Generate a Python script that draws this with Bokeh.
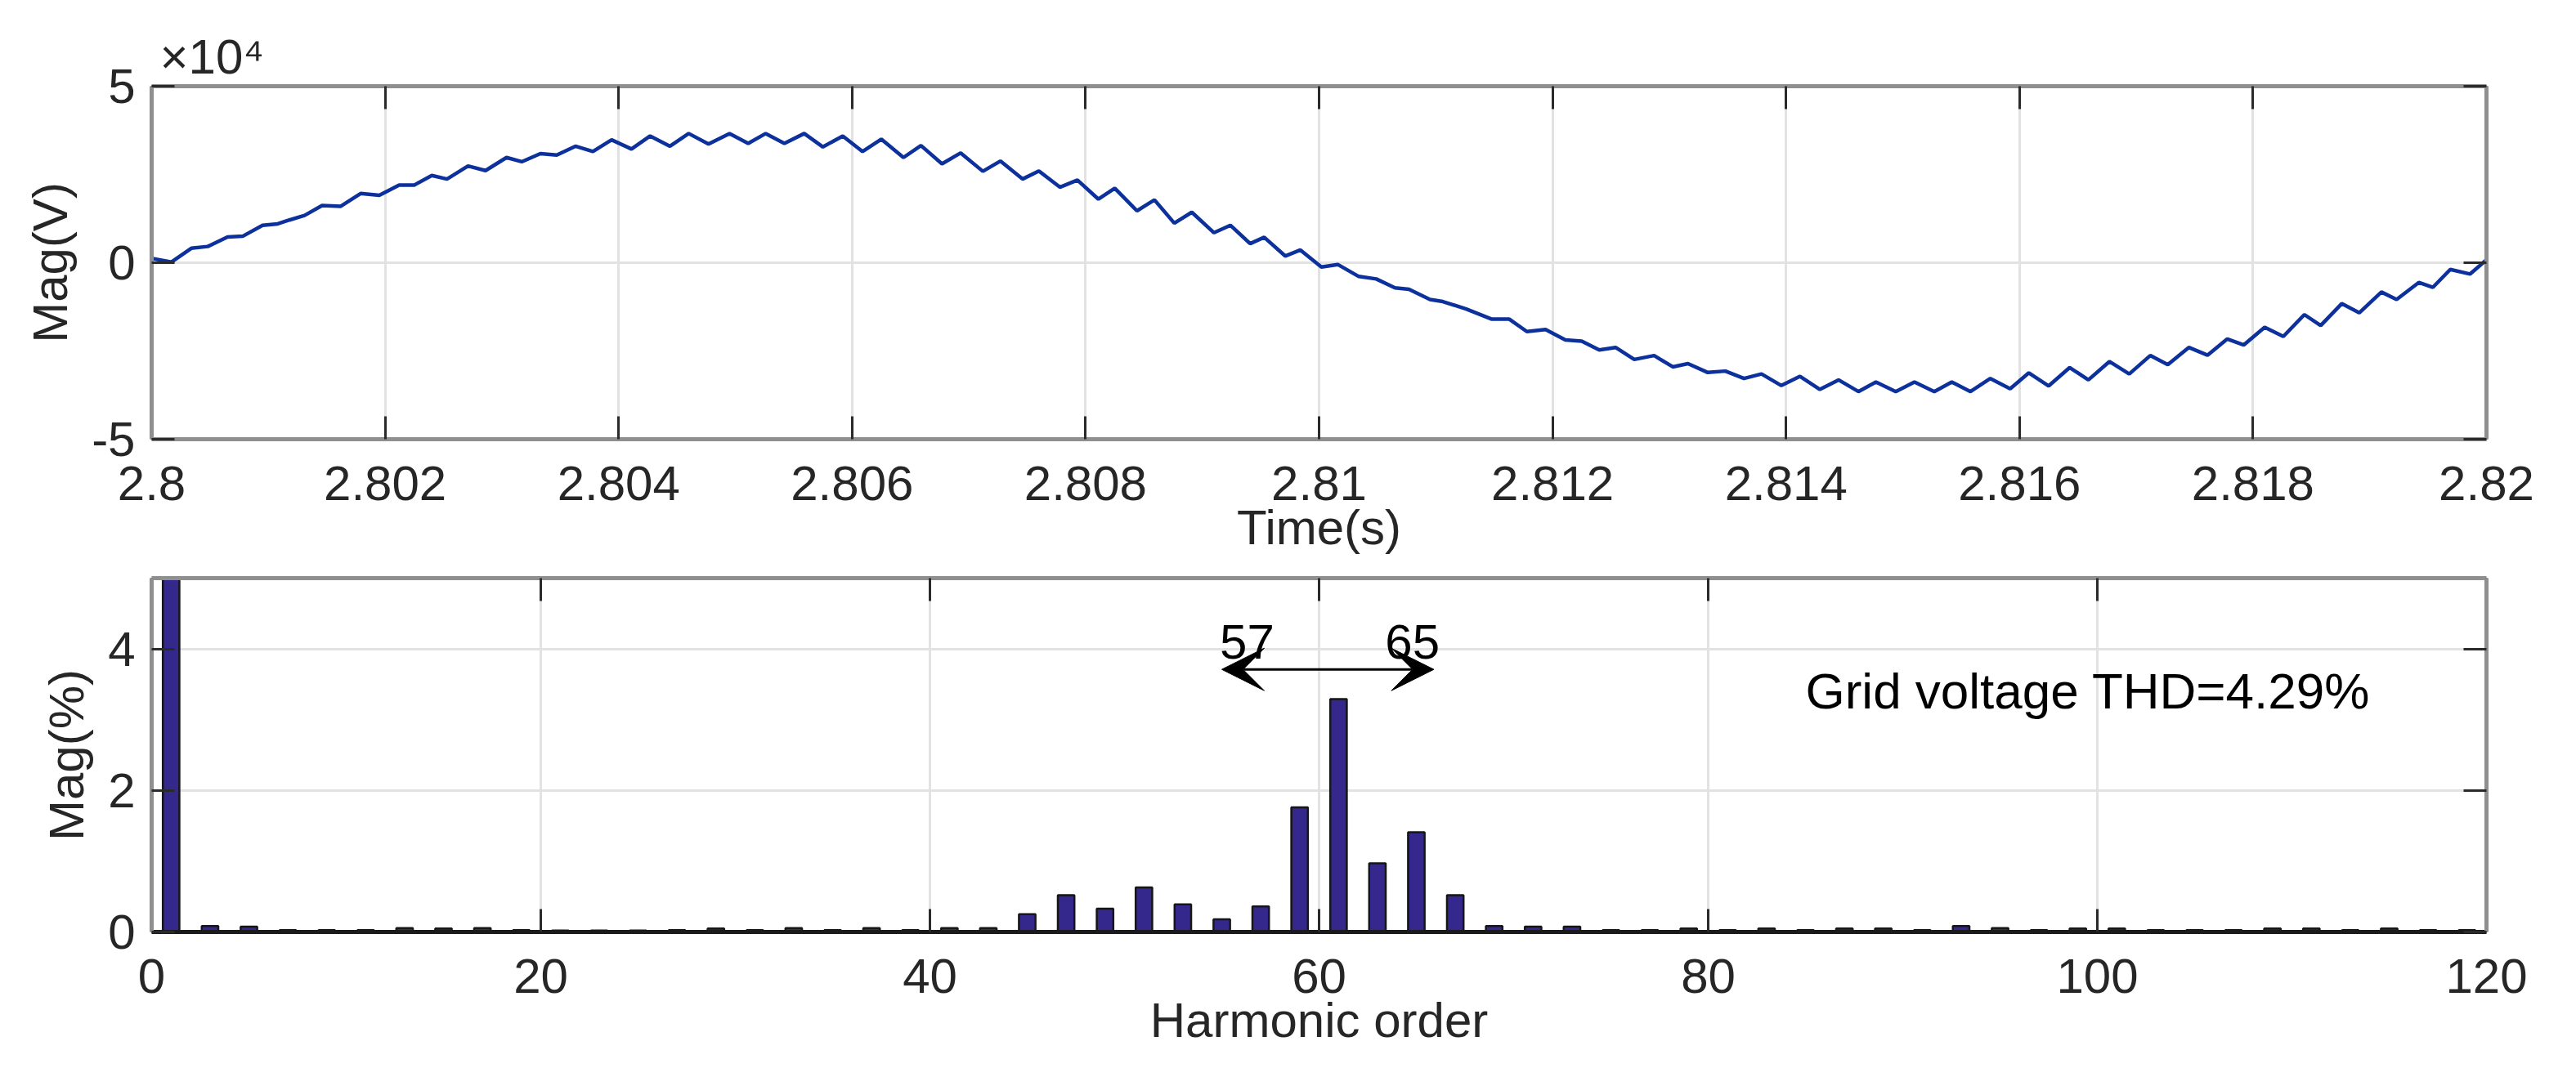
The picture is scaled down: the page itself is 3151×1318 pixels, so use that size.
from bokeh.plotting import figure
from bokeh.models import Range1d, FixedTicker, LinearAxis, Label, Arrow, VeeHead
from bokeh.layouts import column
from bokeh.embed import file_html
from bokeh.resources import INLINE

# ---------------- data ----------------
# Upper panel: grid voltage waveform, time in s, voltage in units of 1e4 V
time_s = [
    2.80000, 2.80017, 2.80034, 2.80048, 2.80065, 2.80078, 2.80095, 2.80108, 2.80118, 2.80131,
    2.80146, 2.80162, 2.80179, 2.80195, 2.80212, 2.80225, 2.80240, 2.80253, 2.80271, 2.80286,
    2.80304, 2.80317, 2.80333, 2.80347, 2.80363, 2.80378, 2.80394, 2.80411, 2.80427, 2.80444,
    2.80460, 2.80477, 2.80495, 2.80511, 2.80526, 2.80542, 2.80559, 2.80575, 2.80592, 2.80609,
    2.80625, 2.80644, 2.80659, 2.80677, 2.80693, 2.80712, 2.80727, 2.80746, 2.80760, 2.80778,
    2.80793, 2.80811, 2.80825, 2.80844, 2.80859, 2.80876, 2.80891, 2.80910, 2.80924, 2.80941,
    2.80953, 2.80971, 2.80984, 2.81002, 2.81016, 2.81034, 2.81049, 2.81065, 2.81077, 2.81095,
    2.81106, 2.81126, 2.81148, 2.81163, 2.81178, 2.81194, 2.81211, 2.81225, 2.81240, 2.81254,
    2.81270, 2.81287, 2.81303, 2.81316, 2.81333, 2.81348, 2.81364, 2.81379, 2.81396, 2.81412,
    2.81429, 2.81445, 2.81462, 2.81477, 2.81494, 2.81510, 2.81527, 2.81542, 2.81558, 2.81575,
    2.81592, 2.81608, 2.81625, 2.81643, 2.81659, 2.81677, 2.81694, 2.81712, 2.81727, 2.81745,
    2.81761, 2.81778, 2.81792, 2.81810, 2.81826, 2.81844, 2.81858, 2.81876, 2.81891, 2.81910,
    2.81923, 2.81942, 2.81954, 2.81969, 2.81986, 2.82000,
]
voltage_e4 = [
    0.12, 0.02, 0.41, 0.46, 0.73, 0.75, 1.06, 1.10, 1.21, 1.34,
    1.62, 1.60, 1.96, 1.91, 2.20, 2.20, 2.47, 2.37, 2.74, 2.61,
    2.98, 2.86, 3.09, 3.05, 3.30, 3.15, 3.48, 3.22, 3.59, 3.30,
    3.66, 3.36, 3.66, 3.38, 3.66, 3.38, 3.66, 3.28, 3.59, 3.15,
    3.50, 2.98, 3.32, 2.80, 3.11, 2.59, 2.88, 2.37, 2.60, 2.14,
    2.34, 1.80, 2.11, 1.47, 1.78, 1.12, 1.43, 0.85, 1.06, 0.54,
    0.72, 0.19, 0.36, -0.12, -0.05, -0.39, -0.46, -0.71, -0.75, -1.04,
    -1.10, -1.31, -1.60, -1.60, -1.95, -1.89, -2.19, -2.22, -2.47, -2.40,
    -2.74, -2.63, -2.95, -2.86, -3.11, -3.07, -3.28, -3.15, -3.48, -3.22,
    -3.59, -3.32, -3.65, -3.38, -3.65, -3.38, -3.65, -3.38, -3.65, -3.28,
    -3.57, -3.12, -3.49, -2.97, -3.32, -2.80, -3.15, -2.63, -2.89, -2.40,
    -2.62, -2.16, -2.33, -1.83, -2.09, -1.47, -1.78, -1.16, -1.42, -0.83,
    -1.04, -0.56, -0.70, -0.19, -0.32, 0.08,
]
voltage_v = [v * 1e4 for v in voltage_e4]

time_ticks = [2.8, 2.802, 2.804, 2.806, 2.808, 2.81, 2.812, 2.814, 2.816, 2.818, 2.82]
time_tick_labels = ["2.8", "2.802", "2.804", "2.806", "2.808", "2.81",
                    "2.812", "2.814", "2.816", "2.818", "2.82"]
volt_ticks = [-50000, 0, 50000]
volt_tick_labels = ["-5", "0", "5"]
volt_multiplier = "×10⁴"

# Lower panel: harmonic spectrum (% of fundamental)
harmonic_order = [1, 3, 5, 7, 9, 11, 13, 15, 17, 19, 21, 23, 25, 27, 29, 31, 33, 35, 37, 39,
                  41, 43, 45, 47, 49, 51, 53, 55, 57, 59, 61, 63, 65, 67, 69, 71, 73, 75, 77, 79,
                  81, 83, 85, 87, 89, 91, 93, 95, 97, 99, 101, 103, 105, 107, 109, 111, 113, 115,
                  117, 119]
harmonic_mag = [100, 0.085, 0.075, 0.025, 0.025, 0.025, 0.055, 0.05, 0.055, 0.025,
                0.02, 0.02, 0.02, 0.025, 0.05, 0.025, 0.055, 0.025, 0.055, 0.025,
                0.055, 0.055, 0.25, 0.52, 0.33, 0.63, 0.39, 0.18, 0.36, 1.76,
                3.29, 0.97, 1.41, 0.52, 0.085, 0.075, 0.075, 0.025, 0.025, 0.05,
                0.025, 0.05, 0.025, 0.05, 0.05, 0.025, 0.085, 0.055, 0.025, 0.05,
                0.05, 0.025, 0.025, 0.025, 0.05, 0.05, 0.025, 0.05, 0.025, 0.025]
order_ticks = [0, 20, 40, 60, 80, 100, 120]
mag_ticks = [0, 2, 4]

band_start, band_end = 57, 65
thd_text = "Grid voltage THD=4.29%"

# ---------------- styling ----------------
FONT = "Liberation Sans"
TXT = "#262626"
BORDER = "#8f8f8f"
GRID = "#e2e2e2"
TICK = "#2a2a2a"
FS = "60px"


def style_axis(ax, ticks, overrides=None, show_labels=True, line_color=BORDER):
    ax.ticker = FixedTicker(ticks=ticks)
    ax.axis_line_color = line_color
    ax.axis_line_width = 5
    ax.major_tick_in = 28
    ax.major_tick_out = 0
    ax.major_tick_line_color = TICK
    ax.major_tick_line_width = 3
    ax.minor_tick_line_color = None
    ax.major_label_text_font = FONT
    ax.major_label_text_color = TXT
    ax.axis_label_text_font = FONT
    ax.axis_label_text_font_style = "normal"
    ax.axis_label_text_color = TXT
    ax.axis_label_text_font_size = FS
    if overrides:
        ax.major_label_overrides = overrides
    if show_labels:
        ax.major_label_text_font_size = FS
    else:
        ax.major_label_text_font_size = "2px"
        ax.major_label_text_color = None
        ax.major_label_standoff = 0


def make_frame(p, xticks, yticks, xover=None, yover=None, bottom_color=BORDER):
    p.background_fill_color = "white"
    p.border_fill_color = "white"
    p.outline_line_color = None
    p.add_layout(LinearAxis(), "above")
    p.add_layout(LinearAxis(), "right")
    for ax in p.below:
        style_axis(ax, xticks, xover, True, bottom_color)
        ax.major_label_standoff = 33
        ax.axis_label_standoff = -3
    for ax in p.above:
        style_axis(ax, xticks, None, False)
    for ax in p.left:
        style_axis(ax, yticks, yover, True)
        ax.major_label_standoff = 20
        ax.axis_label_standoff = 14
    for ax in p.right:
        style_axis(ax, yticks, None, False)
    p.xgrid.ticker = FixedTicker(ticks=xticks)
    p.ygrid.ticker = FixedTicker(ticks=yticks)
    for g in (p.xgrid, p.ygrid):
        g.grid_line_color = GRID
        g.grid_line_width = 3


# ---------------- upper panel ----------------
p1 = figure(width=3135, height=690, output_backend="svg", toolbar_location=None,
            x_range=Range1d(2.8, 2.82), y_range=Range1d(-5e4, 5e4),
            min_border_left=185, min_border_right=94, min_border_top=105, min_border_bottom=153)
p1.line(time_s, voltage_v, line_color="#0c309c", line_width=4.5)
make_frame(p1, time_ticks, volt_ticks,
           dict(zip(time_ticks, time_tick_labels)), dict(zip(volt_ticks, volt_tick_labels)))
p1.below[0].axis_label = "Time(s)"
p1.left[0].axis_label = "Mag(V)"
p1.title.text = volt_multiplier
p1.title.align = "left"
p1.title.offset = 10
p1.title.standoff = 6
p1.title.text_font = FONT
p1.title.text_font_size = "60px"
p1.title.text_font_style = "normal"
p1.title.text_color = TXT

# ---------------- lower panel ----------------
p2 = figure(width=3135, height=612, output_backend="svg", toolbar_location=None,
            x_range=Range1d(0, 120), y_range=Range1d(0, 5),
            min_border_left=185, min_border_right=94, min_border_top=17, min_border_bottom=162)
p2.vbar(x=harmonic_order, top=harmonic_mag, width=0.85, fill_color="#35288c",
        line_color="#161616", line_width=2.5)
make_frame(p2, order_ticks, mag_ticks, bottom_color="#1a1a1a")
p2.below[0].axis_label = "Harmonic order"
p2.left[0].axis_label = "Mag(%)"

p2.add_layout(Arrow(x_start=55.0, y_start=3.71, x_end=65.9, y_end=3.71,
                    line_color="black", line_width=3,
                    start=VeeHead(size=52, fill_color="black", line_color="black"),
                    end=VeeHead(size=52, fill_color="black", line_color="black")))
p2.add_layout(Label(x=56.3, y=4.1, text=str(band_start), text_align="center",
                    text_baseline="alphabetic", text_font=FONT, text_font_size=FS,
                    text_color="black"))
p2.add_layout(Label(x=64.8, y=4.1, text=str(band_end), text_align="center",
                    text_baseline="alphabetic", text_font=FONT, text_font_size=FS,
                    text_color="black"))
p2.add_layout(Label(x=85.0, y=3.41, text=thd_text, text_align="left",
                    text_baseline="alphabetic", text_font=FONT, text_font_size="62px",
                    text_color="black"))

layout = column(p1, p2)
open("out.html", "w").write(file_html(layout, INLINE))
